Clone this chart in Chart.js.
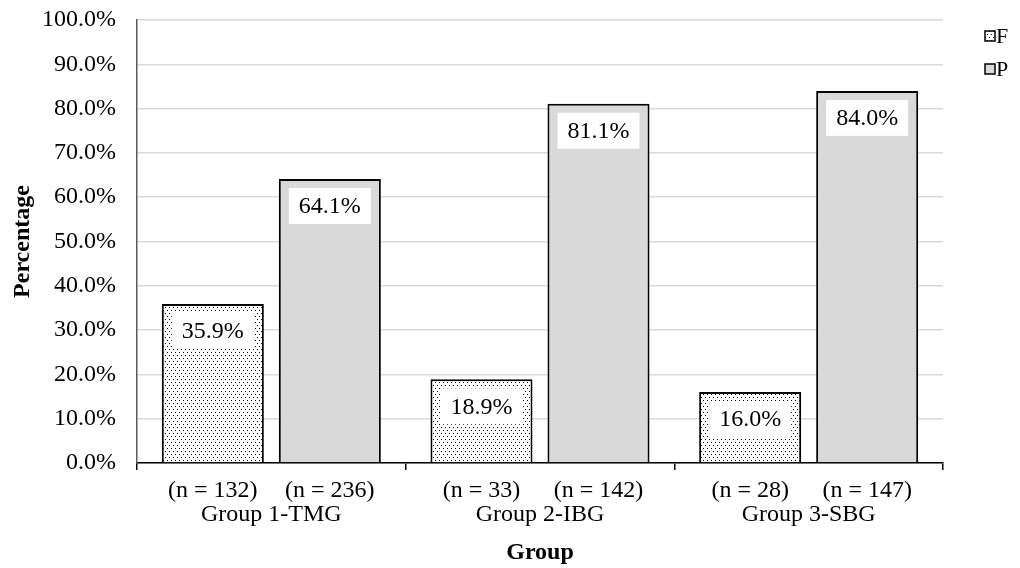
<!DOCTYPE html>
<html>
<head>
<meta charset="utf-8">
<script src="https://cdn.jsdelivr.net/npm/chart.js@4/dist/chart.umd.min.js"></script>
<style>
  html, body { margin: 0; padding: 0; background: #fff; }
  #wrap { width: 1020px; height: 568px; }
</style>
</head>
<body>
<div id="wrap"><canvas id="myChart" width="1020" height="568"></canvas></div>
<script>
// chart data
const groups = ['Group 1-TMG', 'Group 2-IBG', 'Group 3-SBG'];
const seriesNames = ['F', 'P'];
const fValues = [35.9, 18.9, 16.0];
const pValues = [64.1, 81.1, 84.0];
const fCounts = [132, 33, 28];
const pCounts = [236, 142, 147];
const yTicks = [0, 10, 20, 30, 40, 50, 60, 70, 80, 90, 100];

const FONT = '"Liberation Serif", "Times New Roman", serif';

// dotted fill used for the F bars
function dotPattern() {
    var c = document.createElement('canvas');
    c.width = 4; c.height = 6;
    var g = c.getContext('2d');
    g.fillStyle = '#fff';
    g.fillRect(0, 0, 4, 6);
    g.fillStyle = '#000';
    g.fillRect(1, 1, 1, 1);
    g.fillRect(3, 4, 1, 1);
    return g.createPattern(c, 'repeat');
}
const dots = dotPattern();
const grey = '#d9d9d9';

// white boxes with the value near the top of each bar
const valueBoxes = {
    id: 'valueBoxes',
    afterDatasetsDraw(chart) {
        const ctx = chart.ctx;
        ctx.save();
        ctx.font = '24px ' + FONT;
        ctx.textAlign = 'center';
        ctx.textBaseline = 'middle';
        chart.data.datasets.forEach((ds, di) => {
            chart.getDatasetMeta(di).data.forEach((bar, i) => {
                const txt = ds.data[i].toFixed(1) + '%';
                const w = ctx.measureText(txt).width + 20;
                const h = 36;
                const top = bar.y + 9;
                ctx.fillStyle = '#fff';
                ctx.fillRect(bar.x - w / 2, top, w, h);
                ctx.fillStyle = '#000';
                ctx.fillText(txt, bar.x, top + h / 2 + 1);
            });
        });
        ctx.restore();
    }
};

// (n = ..) under every bar
const countLabels = {
    id: 'countLabels',
    afterDraw(chart) {
        const ctx = chart.ctx;
        const counts = [fCounts, pCounts];
        ctx.save();
        ctx.font = '24px ' + FONT;
        ctx.textAlign = 'center';
        ctx.textBaseline = 'middle';
        ctx.fillStyle = '#000';
        chart.data.datasets.forEach((ds, di) => {
            chart.getDatasetMeta(di).data.forEach((bar, i) => {
                ctx.fillText('(n = ' + counts[di][i] + ')', bar.x, 491);
            });
        });
        ctx.restore();
    }
};

// legend at the right edge
const sideLegend = {
    id: 'sideLegend',
    afterDraw(chart) {
        const ctx = chart.ctx;
        const fills = [dots, grey];
        ctx.save();
        ctx.font = '22px ' + FONT;
        ctx.textBaseline = 'middle';
        seriesNames.forEach((name, i) => {
            const y = 36 + i * 33;
            ctx.fillStyle = fills[i];
            ctx.fillRect(985, y - 5, 10, 10);
            ctx.strokeStyle = '#000';
            ctx.lineWidth = 1.5;
            ctx.strokeRect(985, y - 5, 10, 10);
            ctx.fillStyle = '#000';
            ctx.fillText(name, 996, y + 1);
        });
        ctx.restore();
    }
};

new Chart(document.getElementById('myChart'), {
    type: 'bar',
    data: {
        labels: groups,
        datasets: [{
            label: seriesNames[0],
            data: fValues,
            backgroundColor: dots,
            borderColor: '#000',
            borderWidth: 2,
            borderSkipped: 'bottom',
            categoryPercentage: 0.871,
            barPercentage: 0.872
        }, {
            label: seriesNames[1],
            data: pValues,
            backgroundColor: grey,
            borderColor: '#000',
            borderWidth: 2,
            borderSkipped: 'bottom',
            categoryPercentage: 0.871,
            barPercentage: 0.872
        }]
    },
    options: {
        responsive: false,
        animation: false,
        devicePixelRatio: 1,
        layout: { padding: { top: 20, right: 77, left: 0, bottom: 0 } },
        plugins: {
            legend: { display: false },
            tooltip: { enabled: false }
        },
        scales: {
            x: {
                offset: true,
                grid: {
                    offset: true,
                    drawOnChartArea: false,
                    drawTicks: true,
                    tickLength: 7,
                    color: '#000',
                    lineWidth: 1.5
                },
                border: { color: '#000', width: 1.5 },
                ticks: {
                    color: '#000',
                    font: { family: FONT, size: 24 },
                    padding: 30
                },
                title: {
                    display: true,
                    text: 'Group',
                    color: '#000',
                    font: { family: FONT, size: 24, weight: 'bold' },
                    padding: { top: 4, bottom: 1 }
                },
                afterFit(scale) { scale.height = 105; }
            },
            y: {
                min: 0,
                max: 100,
                afterBuildTicks(scale) {
                    scale.ticks = yTicks.map(v => ({ value: v }));
                },
                grid: { color: '#d9d9d9', lineWidth: 1.5, drawTicks: false },
                border: { color: '#595959', width: 1.5 },
                ticks: {
                    color: '#000',
                    font: { family: FONT, size: 24 },
                    padding: 21,
                    callback: v => v.toFixed(1) + '%'
                },
                title: {
                    display: true,
                    text: 'Percentage',
                    color: '#000',
                    font: { family: FONT, size: 24, weight: 'bold' },
                    padding: { top: 8, bottom: 0 }
                },
                afterFit(scale) {
                    scale.width = 137;
                    scale.paddingTop = 0;
                    scale.paddingBottom = 0;
                }
            }
        }
    },
    plugins: [valueBoxes, countLabels, sideLegend]
});
</script>
</body>
</html>
